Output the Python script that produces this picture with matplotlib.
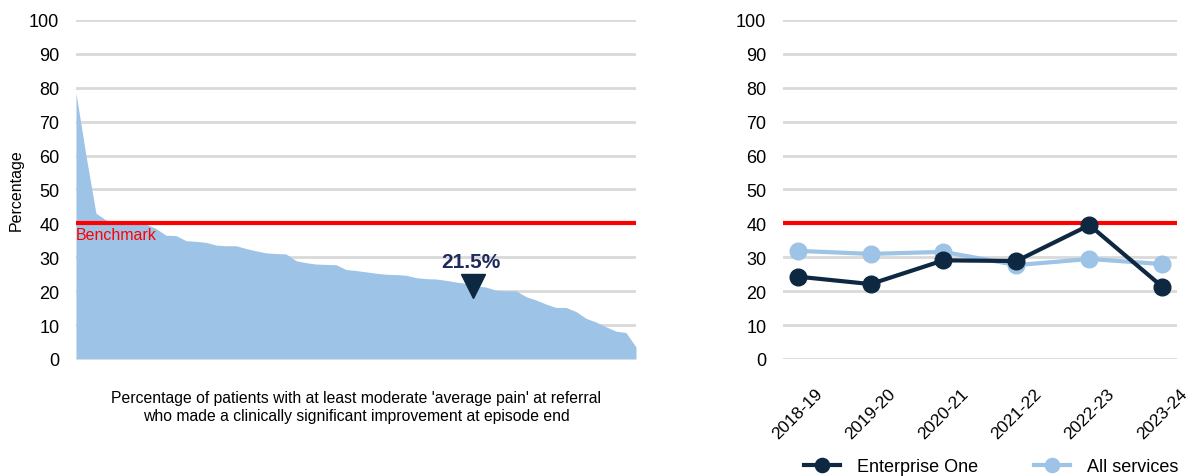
import matplotlib
matplotlib.use('Agg')
import matplotlib.pyplot as plt
import numpy as np

plt.rcParams['font.family'] = ['Liberation Sans', 'DejaVu Sans']

# Left chart: distribution of providers (sorted, highest first)
provider_values = [78.5, 60.0, 43.0, 41.0, 40.5, 40.3, 40.0, 39.8, 38.5, 36.5,
                   36.4, 34.9, 34.7, 34.4, 33.6, 33.4, 33.4, 32.6, 31.9, 31.3,
                   31.1, 31.0, 29.0, 28.4, 28.0, 27.9, 27.8, 26.4, 26.1, 25.7,
                   25.3, 25.0, 24.9, 24.7, 24.0, 23.7, 23.6, 23.2, 22.7, 22.3,
                   21.6, 21.2, 20.3, 20.1, 20.1, 18.4, 17.4, 16.2, 15.2, 15.2,
                   14.0, 12.0, 10.9, 9.5, 8.2, 7.8, 3.5]
benchmark = 40
this_value = 21.5
this_position = 39.7

# Right chart: trend over years
years = ['2018-19', '2019-20', '2020-21', '2021-22', '2022-23', '2023-24']
enterprise_one = [24.3, 22.1, 29.1, 28.9, 39.5, 21.3]
all_services = [31.9, 31.0, 31.6, 27.7, 29.5, 28.0]

navy = '#0E2841'
light_blue = '#9DC3E6'
grid_col = '#D9D9D9'

fig = plt.figure(figsize=(11.89, 4.77), dpi=100)
ax1 = fig.add_axes([0.0639, 0.2453, 0.471, 0.7107])
ax2 = fig.add_axes([0.6585, 0.2453, 0.3314, 0.7107])

for ax in (ax1, ax2):
    ax.set_ylim(0, 100)
    ax.set_yticks(range(0, 101, 10))
    ax.yaxis.grid(True, color=grid_col, linewidth=2)
    ax.set_axisbelow(True)
    for s in ax.spines.values():
        s.set_visible(False)
    ax.tick_params(axis='y', length=0, labelsize=13, pad=12, labelcolor='#000000')
    ax.tick_params(axis='x', length=0)

# Left: area chart
x = np.arange(len(provider_values))
ax1.fill_between(x, provider_values, 0, color=light_blue, linewidth=0, zorder=2)
ax1.set_xlim(0, len(provider_values) - 1)
ax1.set_xticks([])
ax1.axhline(benchmark, color='#FF0000', linewidth=3, zorder=3)
ax1.text(0, benchmark - 1.2, 'Benchmark', color='#FF0000', fontsize=11.5,
         ha='left', va='top', zorder=4)
ax1.plot([this_position], [this_value], marker='v', markersize=17,
         color=navy, linestyle='none', zorder=5)
ax1.text(this_position - 0.2, this_value + 7.4, f'{this_value}%', color='#1F2A5C',
         fontsize=15, fontweight='bold', ha='center', va='center', zorder=5)
ax1.set_ylabel('Percentage', fontsize=11.5)
ax1.yaxis.set_label_coords(-0.107, 0.5)
ax1.yaxis.label.set_va('center')
ax1.set_xlabel("Percentage of patients with at least moderate 'average pain' at referral\n"
               "who made a clinically significant improvement at episode end",
               fontsize=11.3, labelpad=22, linespacing=1.3)

# Right: trend lines
xi = np.arange(len(years))
ax2.axhline(benchmark, color='#FF0000', linewidth=3, zorder=2)
ax2.plot(xi, all_services, color=light_blue, linewidth=3, marker='o',
         markersize=12, label='All services', zorder=3)
ax2.plot(xi, enterprise_one, color=navy, linewidth=3, marker='o',
         markersize=12, label='Enterprise One', zorder=4)
ax2.set_xlim(-0.2, 5.2)
ax2.set_xticks(xi)
ax2.set_xticklabels(years, rotation=45, ha='center', fontsize=12.5)
ax2.tick_params(axis='x', pad=19)
handles, labels = ax2.get_legend_handles_labels()
fig.legend(handles[::-1], labels[::-1], loc='center',
           bbox_to_anchor=(0.8335, 0.019), ncol=2, frameon=False, fontsize=13,
           columnspacing=3.1, handlelength=2.0, handletextpad=0.95,
           markerscale=0.85, borderaxespad=0, borderpad=0)

fig.savefig('out.png', dpi=100)
